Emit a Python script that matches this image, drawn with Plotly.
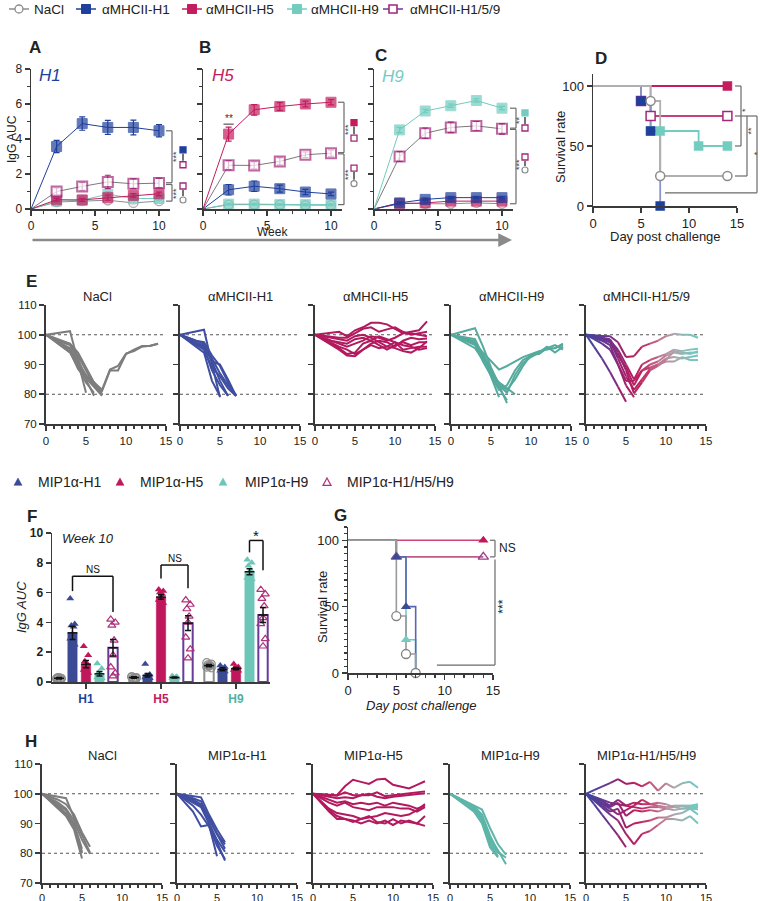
import plotly.graph_objects as go

FONT = "Liberation Sans, Arial, Helvetica, sans-serif"
W, H = 760, 901
AX = "#3a3a3a"
TXT = "#222222"
BR = "#6a6a6a"

GRAY = "#8c8c8c"
BLUE = "#1f3f9c"
RED = "#c41c5e"
TEAL = "#72ccbf"
MIXC = "#a3287a"
LN_BLUE, LN_RED, LN_TEAL, LN_GRAY = "#3f4ea1", "#b3195e", "#55aa9d", "#7d7d7d"
BAR_BLUE, BAR_RED, BAR_TEAL = "#3a4a94", "#c0175c", "#6dc7b9"

# ---------------- data: A-C IgG AUC over weeks ----------------
WEEKS = [0, 2, 4, 6, 8, 10]
A_NACL = [0, 0.40, 0.45, 0.50, 0.35, 0.45]
A_H1 = [0, 3.57, 4.88, 4.66, 4.66, 4.47]
A_H5 = [0, 0.53, 0.52, 0.65, 0.78, 0.87]
A_H9 = [0, 0.45, 0.50, 0.85, 0.60, 0.60]
A_MIX = [0, 1.00, 1.29, 1.55, 1.44, 1.48]
A_ERR_H1 = [0, 0.35, 0.38, 0.40, 0.42, 0.35]
A_ERR_MIX = [0, 0.20, 0.22, 0.38, 0.28, 0.28]
A_ERR_LOW = [0, 0.08, 0.08, 0.15, 0.10, 0.10]

B_NACL = [0, 0.25, 0.25, 0.25, 0.22, 0.22]
B_H1 = [0, 1.10, 1.30, 1.16, 0.97, 0.86]
B_H5 = [0, 4.28, 5.67, 5.86, 6.00, 6.10]
B_H9 = [0, 0.28, 0.28, 0.25, 0.25, 0.25]
B_MIX = [0, 2.50, 2.49, 2.72, 3.10, 3.19]
B_ERR_H5 = [0, 0.40, 0.30, 0.22, 0.16, 0.15]
B_ERR_MIX = [0, 0.25, 0.20, 0.20, 0.16, 0.18]
B_ERR_H1 = [0, 0.30, 0.30, 0.20, 0.15, 0.10]
B_ERR_LOW = [0, 0.05, 0.05, 0.05, 0.05, 0.05]

C_NACL = [0, 0.35, 0.30, 0.30, 0.35, 0.30]
C_H1 = [0, 0.35, 0.55, 0.65, 0.65, 0.65]
C_H5 = [0, 0.30, 0.35, 0.45, 0.45, 0.45]
C_H9 = [0, 4.52, 5.60, 5.90, 6.20, 5.76]
C_MIX = [0, 3.00, 4.33, 4.66, 4.75, 4.58]
C_ERR_H9 = [0, 0.15, 0.10, 0.10, 0.10, 0.10]
C_ERR_MIX = [0, 0.28, 0.30, 0.30, 0.25, 0.30]
C_ERR_LOW = [0, 0.06, 0.06, 0.06, 0.06, 0.06]

# ---------------- data: D survival (aMHCII) ----------------
D_NACL_DAY, D_NACL_SURV = [0, 6, 7, 14], [100, 87.5, 25, 25]
D_H1_DAY, D_H1_SURV = [0, 5, 6, 7], [100, 87.5, 62.5, 0]
D_H5_DAY, D_H5_SURV = [0, 14], [100, 100]
D_H9_DAY, D_H9_SURV = [0, 6, 7, 11, 14], [100, 62.5, 62.5, 50, 50]
D_MIX_DAY, D_MIX_SURV = [0, 5, 6, 14], [100, 87.5, 75, 75]

# ---------------- data: E weight curves (aMHCII), % of day 0 ----------------
E_NACL = [
    [100, 100.4, 100.8, 101.2, 91.0, 80.5],
    [100, 98.7, 97.5, 96.5, 92.0, 85.0, 79.5],
    [100, 98.5, 97.0, 95.5, 91.0, 86.5, 83.0, 81.0, 88.0, 88.0, 93.5, 95.0, 96.2, 96.2, 97.0],
    [100, 98.3, 96.6, 95.0, 90.0, 86.0, 84.0, 81.5, 88.3, 89.5, 93.7, 94.5, 96.0, 96.3, 97.0],
    [100, 98.0, 96.0, 94.0, 89.0, 84.0, 80.5],
    [100, 98.2, 96.3, 94.5, 88.5, 85.5, 82.5, 79.5],
    [100, 98.8, 97.7, 96.8, 93.0, 88.0, 83.0, 80.0],
    [100, 98.9, 98.0, 97.0, 94.0, 89.0, 84.0, 79.8],
]
E_H1 = [
    [100, 100.6, 101.2, 101.7, 90.0, 79.0],
    [100, 99.0, 98.0, 97.0, 91.0, 84.5, 79.4],
    [100, 98.5, 97.0, 95.5, 88.0, 83.0, 79.5],
    [100, 98.7, 97.5, 96.0, 91.0, 90.0, 85.0, 79.4],
    [100, 98.0, 96.0, 94.0, 84.5, 79.3],
    [100, 99.0, 98.0, 97.5, 93.0, 89.5, 84.0, 79.5],
    [100, 98.8, 97.3, 96.5, 92.0, 87.0, 83.0, 79.6],
    [100, 98.4, 96.8, 95.0, 89.0, 86.0, 82.0, 79.4],
]
E_H5 = [
    [100, 100.3, 100.6, 101.0, 99.5, 101.5, 102.5, 104.0, 104.0, 103.5, 102.0, 100.5, 101.0, 101.5, 104.5],
    [100, 99.7, 99.3, 99.0, 99.0, 100.5, 102.0, 102.5, 101.0, 101.8, 102.5, 101.0, 100.0, 100.5, 101.0],
    [100, 99.0, 98.0, 97.0, 96.0, 97.0, 98.0, 99.5, 99.0, 98.0, 99.0, 100.5, 100.5, 100.0, 99.5],
    [100, 98.7, 97.5, 96.0, 95.0, 93.5, 95.0, 97.0, 98.0, 97.5, 96.0, 98.0, 99.0, 98.5, 98.7],
    [100, 98.5, 97.0, 95.5, 93.5, 94.0, 97.0, 98.0, 96.5, 95.0, 96.5, 97.5, 96.5, 97.5, 97.5],
    [100, 98.3, 96.7, 95.0, 93.0, 92.8, 95.0, 96.5, 95.5, 96.0, 97.5, 95.0, 95.5, 96.0, 96.0],
    [100, 99.0, 98.0, 97.5, 97.0, 98.5, 99.0, 98.0, 99.5, 98.5, 97.5, 96.5, 96.0, 95.0, 95.5],
    [100, 99.5, 99.0, 98.5, 98.0, 99.5, 100.0, 99.0, 97.5, 96.0, 95.5, 94.5, 94.0, 95.5, 97.8],
]
E_H9 = [
    [100, 100.7, 101.4, 102.2, 96.0, 89.0, 83.0, 77.0],
    [100, 99.5, 99.0, 98.5, 93.0, 86.0, 79.0],
    [100, 99.0, 98.0, 97.5, 92.0, 87.0, 84.0, 82.0, 80.0],
    [100, 99.3, 98.5, 97.8, 93.0, 88.0, 83.0, 80.5, 86.5, 90.5, 92.5, 94.0, 95.5, 95.5, 97.0],
    [100, 99.0, 98.0, 97.0, 94.0, 91.0, 88.3, 89.5, 91.0, 92.5, 93.5, 94.5, 95.0, 95.5, 96.5],
    [100, 98.8, 97.6, 96.5, 91.0, 86.0, 81.5, 83.0, 88.0, 91.5, 93.0, 94.0, 96.0, 94.0, 96.0],
    [100, 99.2, 98.4, 97.6, 93.5, 88.5, 83.5, 81.5, 85.0, 89.5, 93.3, 93.5, 95.5, 96.5, 95.0],
    [100, 98.5, 97.0, 95.5, 91.5, 87.0, 82.0, 78.0],
]
E_MIX = [
    [100, 99.8, 99.6, 99.5, 97.5, 92.5, 92.8, 96.0, 97.0, 98.0, 99.5, 100.3, 100.0, 100.0, 99.0],
    [100, 96.0, 92.0, 87.5, 82.5, 77.5],
    [100, 99.5, 99.0, 98.5, 94.0, 88.0, 80.3, 84.0, 88.0, 89.5, 91.5, 94.5, 94.0, 93.5, 94.5],
    [100, 99.5, 99.0, 98.0, 92.0, 86.0, 81.5, 85.0, 88.5, 90.0, 92.0, 92.5, 92.0, 92.5, 93.0],
    [100, 99.0, 98.0, 96.5, 90.0, 84.5, 84.5, 88.0, 89.0, 90.0, 91.0, 91.0, 92.5, 91.5, 91.5],
    [100, 99.2, 98.4, 97.5, 93.0, 89.0, 83.0, 88.0, 90.0, 91.0, 93.0, 94.0, 93.5, 94.0, 94.0],
    [100, 98.5, 97.0, 95.0, 90.0, 83.0, 79.0],
    [100, 99.3, 98.7, 98.0, 95.0, 90.0, 85.0, 90.0, 91.5, 92.5, 93.5, 95.0, 94.5, 95.0, 95.3],
]

# ---------------- data: F IgG AUC week 10 (MIP1a) ----------------
F_GROUPS = ["H1", "H5", "H9"]
F_MEAN_NACL = [0.25, 0.30, 1.10]
F_MEAN_H1 = [3.30, 0.45, 0.85]
F_MEAN_H5 = [1.20, 5.70, 0.90]
F_MEAN_H9 = [0.55, 0.30, 7.40]
F_MEAN_MIX = [2.30, 3.95, 4.50]
F_SEM_NACL = [0.05, 0.05, 0.08]
F_SEM_H1 = [0.45, 0.12, 0.10]
F_SEM_H5 = [0.25, 0.15, 0.08]
F_SEM_H9 = [0.15, 0.03, 0.20]
F_SEM_MIX = [0.55, 0.50, 0.50]
F_PTS_NACL = [[0.20, 0.25, 0.30, 0.20, 0.30, 0.25, 0.20],
              [0.35, 0.30, 0.25, 0.30, 0.20, 0.35, 0.25],
              [1.30, 1.20, 1.15, 1.10, 1.05, 1.00, 0.95]]
F_PTS_H1 = [[5.6, 3.9, 3.8, 3.7, 3.2, 2.9, 2.5, 1.6],
            [1.2, 0.5, 0.4, 0.35, 0.3, 0.3, 0.25, 0.3],
            [1.1, 1.0, 0.9, 0.85, 0.8, 0.75, 0.7, 0.7]]
F_PTS_H5 = [[2.4, 1.8, 1.4, 1.2, 1.0, 0.8, 0.6, 0.4],
            [6.2, 6.1, 6.0, 5.9, 5.7, 5.5, 5.3, 5.0],
            [1.2, 1.0, 0.95, 0.9, 0.85, 0.8, 0.75, 0.8]]
F_PTS_H9 = [[1.25, 0.9, 0.6, 0.5, 0.4, 0.3, 0.25, 0.2],
            [0.4, 0.35, 0.3, 0.3, 0.25, 0.25, 0.3, 0.25],
            [8.2, 8.0, 7.8, 7.5, 7.3, 7.0, 6.9, 6.7]]
F_PTS_MIX = [[4.2, 4.0, 3.8, 2.8, 1.8, 1.0, 0.6, 0.4],
             [5.5, 5.2, 4.9, 4.4, 4.0, 3.0, 2.2, 1.6],
             [6.2, 5.9, 5.6, 5.1, 4.3, 3.9, 2.9, 2.4]]

# ---------------- data: G survival (MIP1a) ----------------
G_NACL_DAY, G_NACL_SURV = [0, 5, 6, 7], [100, 42.9, 14.3, 0]
G_H1_DAY, G_H1_SURV = [0, 5, 6, 7], [100, 87.5, 50, 0]
G_H5_DAY, G_H5_SURV = [0, 14], [100, 100]
G_H9_DAY, G_H9_SURV = [0, 5, 6, 7], [100, 87.5, 25, 0]
G_MIX_DAY, G_MIX_SURV = [0, 5, 14], [100, 87.5, 87.5]

# ---------------- data: H weight curves (MIP1a) ----------------
H_NACL = [
    [100, 99.5, 99.0, 98.5, 92.0, 86.0, 80.2],
    [100, 99.0, 98.0, 96.5, 93.0, 87.0, 82.2],
    [100, 98.5, 97.0, 95.0, 91.0, 84.5, 79.8],
    [100, 98.0, 96.0, 93.5, 89.0, 80.5],
    [100, 97.5, 95.0, 92.5, 88.0, 78.2],
    [100, 98.2, 96.5, 94.5, 89.5, 80.0],
    [100, 97.8, 95.5, 93.0, 90.0, 81.5],
]
H_H1 = [
    [100, 99.6, 99.2, 98.8, 93.0, 88.0, 83.7],
    [100, 99.3, 98.5, 97.5, 91.5, 86.5, 81.5],
    [100, 98.5, 97.0, 95.5, 90.0, 84.0, 77.5],
    [100, 97.0, 94.0, 89.0, 89.5, 79.0],
    [100, 98.0, 96.0, 93.0, 89.0, 82.5, 78.0],
    [100, 99.0, 98.0, 96.5, 92.0, 86.5, 83.0],
    [100, 98.8, 97.5, 96.0, 90.5, 84.5, 80.5],
]
H_H5 = [
    [100, 99.8, 99.7, 99.5, 102.5, 104.7, 104.0, 103.3, 104.8, 105.0, 103.0, 102.5, 101.8, 103.0, 104.2],
    [100, 99.8, 99.5, 99.3, 100.5, 99.5, 99.5, 99.5, 100.5, 99.2, 99.5, 99.8, 100.0, 100.3, 100.8],
    [100, 99.5, 99.0, 98.5, 98.8, 98.5, 99.5, 100.0, 99.0, 98.5, 99.0, 99.3, 99.5, 100.0, 100.2],
    [100, 99.0, 98.0, 97.0, 97.5, 96.5, 97.0, 96.5, 97.0, 96.0, 97.0, 96.5, 96.0, 95.0, 96.0],
    [100, 98.5, 97.0, 96.0, 97.0, 95.5, 95.0, 94.5, 95.5, 95.5, 95.5, 95.0, 95.0, 94.0, 95.5],
    [100, 97.5, 95.0, 93.5, 93.0, 92.5, 91.5, 92.0, 92.5, 93.5, 93.0, 92.5, 93.0, 94.5, 96.5],
    [100, 97.0, 94.0, 91.5, 91.5, 91.0, 90.0, 91.0, 90.0, 91.0, 89.5, 91.0, 90.5, 90.0, 89.2],
    [100, 97.2, 94.5, 92.5, 91.5, 90.5, 91.5, 92.5, 90.5, 90.0, 91.5, 90.0, 91.0, 90.0, 92.5],
]
H_H9 = [
    [100, 98.7, 97.4, 96.0, 94.7, 88.5, 83.0, 79.5],
    [100, 98.5, 97.0, 95.5, 92.0, 85.0, 81.0, 76.3],
    [100, 98.2, 96.4, 94.5, 91.0, 83.0, 79.0],
    [100, 98.0, 96.0, 94.0, 90.0, 82.0, 78.6],
    [100, 98.3, 96.6, 95.0, 91.5, 84.0, 80.0],
    [100, 98.6, 97.2, 95.8, 93.0, 86.0, 80.5, 78.5],
]
H_MIX = [
    [100, 101.2, 102.4, 103.6, 104.9, 103.3, 103.7, 102.5, 104.0, 101.0, 103.5, 102.0, 103.5, 104.0, 102.0],
    [100, 96.5, 93.0, 89.5, 86.0, 82.0],
    [100, 97.7, 95.4, 93.0, 91.0, 86.5, 83.0, 86.5, 87.5, 89.5, 91.5, 91.5, 91.0, 92.5, 90.0],
    [100, 98.0, 96.0, 94.0, 95.0, 88.5, 90.0, 90.5, 91.0, 92.0, 92.0, 93.0, 93.5, 95.0, 93.0],
    [100, 98.5, 97.0, 95.5, 97.0, 92.5, 94.5, 94.0, 94.5, 94.0, 95.0, 94.5, 95.0, 95.5, 96.0],
    [100, 98.8, 97.6, 96.0, 98.0, 96.0, 97.0, 96.5, 96.5, 96.0, 95.5, 96.0, 96.0, 96.0, 96.5],
    [100, 99.0, 98.0, 97.0, 96.5, 96.0, 95.5, 95.0, 95.5, 95.5, 95.0, 95.5, 95.0, 95.0, 94.8],
    [100, 98.3, 96.6, 95.0, 93.0, 94.5, 96.0, 98.0, 96.5, 97.0, 96.5, 95.5, 96.0, 95.5, 95.5],
]

# legend labels
TOP_LABELS = ["NaCl", "αMHCII-H1", "αMHCII-H5", "αMHCII-H9", "αMHCII-H1/5/9"]
MIP_LABELS = ["MIP1α-H1", "MIP1α-H5", "MIP1α-H9", "MIP1α-H1/H5/H9"]

# =====================================================================
fig = go.Figure()
shapes, annotations = [], []
layout = dict(width=W, height=H, margin=dict(l=0, r=0, t=0, b=0, autoexpand=False),
              paper_bgcolor="white", plot_bgcolor="rgba(0,0,0,0)",
              font=dict(family=FONT, color=TXT), barmode="overlay", showlegend=False)

base_axis = dict(showgrid=False, zeroline=False, showline=True, linecolor=AX, linewidth=1.5,
                 ticks="outside", tickcolor=AX, tickwidth=1.5, ticklen=5,
                 tickfont=dict(family=FONT, size=12, color=TXT), fixedrange=True)


def minor(dt, ln=3):
    return dict(ticks="outside", ticklen=ln, tickwidth=1.2, tickcolor=AX, dtick=dt, tick0=0, showgrid=False)


def add_axes(n, xpx, ypx, xr, yr, xkw, ykw):
    xs, ys = ("xaxis", "yaxis") if n == 1 else (f"xaxis{n}", f"yaxis{n}")
    xref, yref = ("x", "y") if n == 1 else (f"x{n}", f"y{n}")
    layout[xs] = {**base_axis, **dict(domain=[xpx[0] / W, xpx[1] / W], range=xr, anchor=yref), **xkw}
    layout[ys] = {**base_axis, **dict(domain=[1 - ypx[1] / H, 1 - ypx[0] / H], range=yr, anchor=xref), **ykw}
    return xref, yref


def mk_map(p0, p1, r0, r1):
    return lambda v: p0 + (v - r0) * (p1 - p0) / (r1 - r0)


def seg(x0, y0, x1, y1, color=BR, w=1.2, dash=None):
    ln = dict(color=color, width=w)
    if dash:
        ln["dash"] = dash
    shapes.append(dict(type="line", xref="paper", yref="paper", x0=x0 / W, y0=1 - y0 / H,
                       x1=x1 / W, y1=1 - y1 / H, line=ln))


def box(xc, yc, s, fill, lc, w=1.3):
    shapes.append(dict(type="rect", xref="paper", yref="paper", x0=(xc - s / 2) / W, x1=(xc + s / 2) / W,
                       y0=1 - (yc + s / 2) / H, y1=1 - (yc - s / 2) / H, fillcolor=fill,
                       line=dict(color=lc, width=w)))


def circ(xc, yc, s, lc, w=1.2):
    shapes.append(dict(type="circle", xref="paper", yref="paper", x0=(xc - s / 2) / W, x1=(xc + s / 2) / W,
                       y0=1 - (yc + s / 2) / H, y1=1 - (yc - s / 2) / H, fillcolor="white",
                       line=dict(color=lc, width=w)))


def tri(xc, yc, s, fill, lc, w=1.2):
    pts = [(xc - s / 2, yc + s * 0.42), (xc + s / 2, yc + s * 0.42), (xc, yc - s * 0.5)]
    path = "M " + " L ".join(f"{x / W:.5f},{1 - y / H:.5f}" for x, y in pts) + " Z"
    shapes.append(dict(type="path", xref="paper", yref="paper", path=path, fillcolor=fill,
                       line=dict(color=lc, width=w)))


def text(x, y, t, size=12, color=TXT, angle=0, xa="center", ya="middle", bold=False, italic=False):
    if bold:
        t = f"<b>{t}</b>"
    if italic:
        t = f"<i>{t}</i>"
    annotations.append(dict(xref="paper", yref="paper", x=x / W, y=1 - y / H, text=t, showarrow=False,
                            textangle=angle, xanchor=xa, yanchor=ya,
                            font=dict(family=FONT, size=size, color=color)))


# ---------------- legends (drawn manually for exact placement) ----------------
LEG_Y = 9
TOP_MK = [19, 86, 192, 297, 393]
TOP_TX = [32, 100, 204, 309, 408]
TOP_STY = [("circle", "white", GRAY, GRAY), ("square", BLUE, BLUE, BLUE), ("square", RED, RED, RED),
           ("square", TEAL, TEAL, TEAL), ("square", "white", MIXC, "#6a3a9a")]
for lab, mx, tx, (sym, fill, mc, lc) in zip(TOP_LABELS, TOP_MK, TOP_TX, TOP_STY):
    seg(mx - 10, LEG_Y, mx + 10, LEG_Y, lc, 1.5)
    if sym == "circle":
        circ(mx, LEG_Y, 8, mc, 1.3)
    else:
        box(mx, LEG_Y, 8 if fill == "white" else 9, fill, mc, 1.6 if fill == "white" else 1)
    text(tx, LEG_Y, lab, 13.5, xa="left")

MIP_Y = 482
MIP_MK = [18, 120, 223, 327]
MIP_TX = [36, 138, 243, 345]
MIP_STY = [(BAR_BLUE, BAR_BLUE), (BAR_RED, BAR_RED), (BAR_TEAL, BAR_TEAL), ("white", "#b0307a")]
for lab, mx, tx, (fill, lc) in zip(MIP_LABELS, MIP_MK, MIP_TX, MIP_STY):
    tri(mx, MIP_Y, 8, fill, lc, 1.2 if fill == "white" else 0.5)
    text(tx, MIP_Y, lab, 14, xa="left")

# ---------------- panels A-C ----------------
XR_ABC = [0, 10.86]
ABC_Y = (69, 209)
abc_x = [(31, 170), (203, 342), (374, 513)]
abc_refs = []
for i, xp in enumerate(abc_x):
    abc_refs.append(add_axes(i + 1, xp, ABC_Y, XR_ABC, [0, 8],
                             dict(tickvals=[0, 5, 10], minor=minor(1)),
                             dict(tickvals=[0, 2, 4, 6, 8], minor=minor(1), showticklabels=(i == 0))))

STY = {
    "NaCl": dict(sym="circle", fill="white", mc=GRAY, lc=GRAY, lw=1.3, size=9),
    "H1": dict(sym="square", fill=BLUE, mc=BLUE, lc=BLUE, lw=1, size=10),
    "H5": dict(sym="square", fill=RED, mc=RED, lc=RED, lw=1, size=10),
    "H9": dict(sym="square", fill=TEAL, mc=TEAL, lc=TEAL, lw=1, size=10),
    "MIX": dict(sym="square", fill="white", mc=MIXC, lc="#7a7a7a", lw=2, size=10),
}


def igg_trace(refs, key, y, err):
    s = STY[key]
    sizes = [0 if w == 0 else s["size"] for w in WEEKS]
    return go.Scatter(x=WEEKS, y=y, mode="lines+markers", xaxis=refs[0], yaxis=refs[1], showlegend=False,
                      cliponaxis=False, line=dict(color=s["lc"], width=1),
                      marker=dict(symbol=s["sym"], size=sizes, color=s["fill"],
                                  line=dict(color=s["mc"], width=s["lw"])),
                      error_y=dict(type="data", array=err, color=s["mc"], thickness=1.2, width=3))


ABC_SETS = [
    [("NaCl", A_NACL, A_ERR_LOW), ("H9", A_H9, A_ERR_LOW), ("H5", A_H5, A_ERR_LOW),
     ("MIX", A_MIX, A_ERR_MIX), ("H1", A_H1, A_ERR_H1)],
    [("NaCl", B_NACL, B_ERR_LOW), ("H9", B_H9, B_ERR_LOW), ("H1", B_H1, B_ERR_H1),
     ("MIX", B_MIX, B_ERR_MIX), ("H5", B_H5, B_ERR_H5)],
    [("NaCl", C_NACL, C_ERR_LOW), ("H5", C_H5, C_ERR_LOW), ("H1", C_H1, C_ERR_LOW),
     ("MIX", C_MIX, C_ERR_MIX), ("H9", C_H9, C_ERR_H9)],
]
for refs, sets in zip(abc_refs, ABC_SETS):
    for key, y, e in sets:
        fig.add_trace(igg_trace(refs, key, y, e))

ay = mk_map(209, 69, 0, 8)
ax_maps = [mk_map(x0, x1, 0, XR_ABC[1]) for x0, x1 in abc_x]

# brackets A
for (xb, top, bot) in [(172, 4.47, 1.50), (172, 1.40, 0.45)]:
    seg(xb - 6, ay(top), xb, ay(top)); seg(xb, ay(top), xb, ay(bot)); seg(xb - 6, ay(bot), xb, ay(bot))
box(183, ay(3.38), 6, BLUE, BLUE); seg(183, ay(3.38) + 4, 183, ay(2.53) - 4, "#444", 1.5); box(183, ay(2.53), 6, "white", MIXC)
box(183, 186, 6, "white", MIXC); seg(183, 190, 183, 196, "#444", 1.5); circ(183, 200, 6, GRAY)
text(176, 157, "***", 9, "#444", -90); text(176, 194, "***", 9, "#444", -90)
# brackets B
for (xb, top, bot) in [(344, 6.10, 3.22), (344, 3.15, 0.25)]:
    seg(xb - 6, ay(top), xb, ay(top)); seg(xb, ay(top), xb, ay(bot)); seg(xb - 6, ay(bot), xb, ay(bot))
box(354, ay(4.94), 6, RED, RED); seg(354, ay(4.94) + 4, 354, ay(4.05) - 4, "#444", 1.5); box(354, ay(4.05), 6, "white", MIXC)
box(354, ay(2.34), 6, "white", MIXC); seg(354, ay(2.34) + 4, 354, ay(1.45) - 4, "#444", 1.5); circ(354, ay(1.45), 6, GRAY)
text(348, 130, "***", 9, "#444", -90); text(348, 175, "***", 9, "#444", -90)
text(ax_maps[1](2), ay(5.15), "**", 10, "#333")
seg(ax_maps[1](1.6), ay(4.85), ax_maps[1](2.4), ay(4.85), "#333", 1)
# brackets C
for (xb, top, bot) in [(516, 5.76, 4.62), (516, 4.55, 0.30)]:
    seg(xb - 6, ay(top), xb, ay(top)); seg(xb, ay(top), xb, ay(bot)); seg(xb - 6, ay(bot), xb, ay(bot))
box(525, ay(5.49), 6, TEAL, TEAL); seg(525, ay(5.49) + 4, 525, ay(4.63) - 4, "#444", 1.5); box(525, ay(4.63), 6, "white", MIXC)
box(525, 157, 6, "white", MIXC); seg(525, 161, 525, 166, "#444", 1.5); circ(525, 170, 6, GRAY)
text(519, 120, "**", 9, "#444", -90); text(519, 165, "***", 9, "#444", -90)

text(35, 48, "A", 17, bold=True); text(205, 48, "B", 17, bold=True); text(381, 55, "C", 17, bold=True)
text(50, 76, "H1", 17, BLUE, italic=True); text(223, 76, "H5", 17, RED, italic=True)
text(393, 77, "H9", 17, TEAL, italic=True)
text(12, 139, "IgG AUC", 12, angle=-90)
text(272, 232, "Week", 12)
annotations.append(dict(xref="paper", yref="paper", x=512 / W, y=1 - 240 / H, ax=-481, ay=0,
                        axref="pixel", ayref="pixel", text="", showarrow=True, arrowhead=2,
                        arrowsize=1.1, arrowwidth=2.5, arrowcolor="#8a8a8a"))

# ---------------- panel D ----------------
dref = add_axes(4, (593, 737), (74, 206), [0, 15], [0, 110],
                dict(tickvals=[0, 5, 10, 15], tickfont=dict(family=FONT, size=13, color=TXT)),
                dict(tickvals=[0, 50, 100], tickfont=dict(family=FONT, size=13, color=TXT)))
D_SETS = [
    (D_H5_DAY, D_H5_SURV, RED, "square", RED, RED),
    (D_MIX_DAY, D_MIX_SURV, "#c8407a", "square", "white", MIXC),
    (D_H9_DAY, D_H9_SURV, TEAL, "square", TEAL, TEAL),
    (D_H1_DAY, D_H1_SURV, "#8896cc", "square", BLUE, BLUE),
    (D_NACL_DAY, D_NACL_SURV, "#b0b0b0", "circle", "white", GRAY),
]
for days, surv, lc, sym, fill, mc in D_SETS:
    fig.add_trace(go.Scatter(x=days, y=surv, mode="lines", line=dict(shape="hv", color=lc, width=1.8),
                             xaxis=dref[0], yaxis=dref[1], showlegend=False, cliponaxis=False))
for days, surv, lc, sym, fill, mc in D_SETS:
    fig.add_trace(go.Scatter(x=days[1:], y=surv[1:], mode="markers", xaxis=dref[0], yaxis=dref[1],
                             showlegend=False, cliponaxis=False,
                             marker=dict(symbol=sym, size=9, color=fill,
                                         line=dict(color=mc, width=1.5 if fill == "white" else 0.5))))
dx = mk_map(593, 737, 0, 15)
dy = mk_map(206, 74, 0, 110)
seg(735, dy(100), 741, dy(100)); seg(741, dy(100), 741, dy(50)); seg(735, dy(50), 741, dy(50))
seg(735, dy(75), 757, dy(75)); seg(747, dy(75), 747, dy(25)); seg(735, dy(25), 747, dy(25))
seg(757, dy(75), 757, dy(11)); seg(dx(7.5), dy(11), 757, dy(11))
text(745, dy(80), "*", 9, "#444", -90); text(751, dy(63), "**", 9, "#444", -90)
text(757, dy(44), "*", 9, "#444", -90)
text(601, 59, "D", 17, bold=True)
text(560, 147, "Survival rate", 13, angle=-90)
text(665, 236, "Day post challenge", 13)

# ---------------- panels E & H (weights) ----------------
STOPS = [(0, (60, 70, 160)), (3, (110, 50, 140)), (5, (170, 30, 100)), (7, (192, 35, 95)),
         (9, (195, 110, 140)), (11, (175, 165, 170)), (14, (105, 205, 195))]


def grad(t):
    for (t0, c0), (t1, c1) in zip(STOPS[:-1], STOPS[1:]):
        if t <= t1:
            f = (t - t0) / (t1 - t0)
            return "rgb(%d,%d,%d)" % tuple(round(a + (b - a) * f) for a, b in zip(c0, c1))
    return "rgb(%d,%d,%d)" % STOPS[-1][1]


def weight_panel(n, x0, ytop, curves, color, title, first, title_x, tfs=11.5, tlen=5):
    refs = add_axes(n, (x0, x0 + 120), (ytop, ytop + 119), [0, 15], [70, 110],
                    dict(tickvals=[0, 5, 10, 15], minor=minor(1), linewidth=2, tickwidth=1.6, ticklen=tlen,
                         tickfont=dict(family=FONT, size=tfs, color=TXT)),
                    dict(tickvals=[70, 80, 90, 100, 110], showticklabels=first, linewidth=2, tickwidth=1.6,
                         tickfont=dict(family=FONT, size=11.5, color=TXT)))
    for yv in (100, 80):
        shapes.append(dict(type="line", xref=refs[0], yref=refs[1], x0=0, x1=15, y0=yv, y1=yv,
                           layer="below", line=dict(color="#555", width=1.2, dash="dot")))
    if color is None:
        for k in range(14):
            xs, ys = [], []
            for c in curves:
                if len(c) > k + 1:
                    xs += [k, k + 1, None]
                    ys += [c[k], c[k + 1], None]
            if xs:
                fig.add_trace(go.Scatter(x=xs, y=ys, mode="lines", xaxis=refs[0], yaxis=refs[1],
                                         showlegend=False, line=dict(color=grad(k + 0.5), width=2)))
    else:
        for c in curves:
            fig.add_trace(go.Scatter(x=list(range(len(c))), y=c, mode="lines", xaxis=refs[0], yaxis=refs[1],
                                     showlegend=False, line=dict(color=color, width=2)))
    text(title_x, ytop - 9, title, 13)


E_X0 = [46, 180, 315, 451, 586]
E_SETS = [(E_NACL, LN_GRAY, "NaCl"), (E_H1, LN_BLUE, "αMHCII-H1"), (E_H5, LN_RED, "αMHCII-H5"),
          (E_H9, LN_TEAL, "αMHCII-H9"), (E_MIX, None, "αMHCII-H1/5/9")]
E_TX = [97, 240, 375, 511, 646]
for i, ((curves, col, title), x0) in enumerate(zip(E_SETS, E_X0)):
    weight_panel(5 + i, x0, 305, curves, col, title, i == 0, E_TX[i])
text(31, 281, "E", 17, bold=True)

H_X0 = [42, 177, 313, 450, 586]
H_SETS = [(H_NACL, LN_GRAY, "NaCl"), (H_H1, LN_BLUE, "MIP1α-H1"), (H_H5, LN_RED, "MIP1α-H5"),
          (H_H9, "#5db5a8", "MIP1α-H9"), (H_MIX, None, "MIP1α-H1/H5/H9")]
for i, ((curves, col, title), x0) in enumerate(zip(H_SETS, H_X0)):
    weight_panel(12 + i, x0, 764, curves, col, title, i == 0, x0 + 60, tfs=11, tlen=4)
text(31, 741, "H", 17, bold=True)

# ---------------- panel F ----------------
F_COLS = {"H1": BLUE, "H5": RED, "H9": "#4fb3a5"}
fref = add_axes(10, (52, 270), (533, 682), [-0.453, 2.453], [0, 10],
                dict(tickvals=[0, 1, 2],
                     ticktext=[f"<span style='color:{F_COLS[g]}'><b>{g}</b></span>" for g in F_GROUPS],
                     tickfont=dict(family=FONT, size=12, color=TXT)),
                dict(tickvals=[0, 2, 4, 6, 8, 10], tickfont=dict(family=FONT, size=12, color=TXT, weight="bold")))
OFF = [-0.36, -0.18, 0.0, 0.18, 0.36]
BW = 0.125
F_SERIES = [
    ("NaCl", F_MEAN_NACL, F_SEM_NACL, F_PTS_NACL, "white", GRAY, 2, "circle-open", GRAY),
    ("H1", F_MEAN_H1, F_SEM_H1, F_PTS_H1, BAR_BLUE, BAR_BLUE, 0.5, "triangle-up", BAR_BLUE),
    ("H5", F_MEAN_H5, F_SEM_H5, F_PTS_H5, BAR_RED, BAR_RED, 0.5, "triangle-up", BAR_RED),
    ("H9", F_MEAN_H9, F_SEM_H9, F_PTS_H9, BAR_TEAL, BAR_TEAL, 0.5, "triangle-up", BAR_TEAL),
    ("MIX", F_MEAN_MIX, F_SEM_MIX, F_PTS_MIX, "white", "#6a3a9a", 2, "triangle-up-open", "#b0307a"),
]
JIT = [-0.03, 0.03, -0.015, 0.015, 0.0, -0.03, 0.03, 0.0]
for j, (key, mean, sem, pts, fill, lc, lw, sym, pc) in enumerate(F_SERIES):
    xs = [g + OFF[j] for g in range(3)]
    fig.add_trace(go.Bar(x=xs, y=mean, width=BW, xaxis=fref[0], yaxis=fref[1], showlegend=False,
                         marker=dict(color=fill, line=dict(color=lc, width=lw))))
for j, (key, mean, sem, pts, fill, lc, lw, sym, pc) in enumerate(F_SERIES):
    px_, py_ = [], []
    for g in range(3):
        for k, v in enumerate(pts[g]):
            px_.append(g + OFF[j] + JIT[k % len(JIT)])
            py_.append(v)
    fig.add_trace(go.Scatter(x=px_, y=py_, mode="markers", xaxis=fref[0], yaxis=fref[1], cliponaxis=False,
                             showlegend=False,
                             marker=dict(symbol=sym, size=7 if key != "NaCl" else 8, color=pc,
                                         line=dict(width=1.2 if "open" in sym else 0, color=pc))))
for j, (key, mean, sem, pts, fill, lc, lw, sym, pc) in enumerate(F_SERIES):
    xs = [g + OFF[j] for g in range(3)]
    fig.add_trace(go.Scatter(x=xs, y=mean, mode="markers", xaxis=fref[0], yaxis=fref[1], showlegend=False,
                             marker=dict(size=7, symbol="line-ew", line=dict(color="#111", width=1.5)),
                             error_y=dict(type="data", array=sem, color="#111", thickness=1.5, width=3)))
fx = mk_map(86, 161, 0, 1)
fy = mk_map(682, 533, 0, 10)
for g, a, b, top, lb, rb, lab, sz in [(0, 1, 4, 7.1, 6.1, 4.7, "NS", 10), (1, 2, 4, 7.85, 6.95, 6.3, "NS", 10),
                                      (2, 3, 4, 9.5, 8.7, 7.5, "*", 15)]:
    xl, xr = fx(g + OFF[a]), fx(g + OFF[b])
    seg(xl, fy(lb), xl, fy(top), "#111", 1.5); seg(xl, fy(top), xr, fy(top), "#111", 1.5)
    seg(xr, fy(top), xr, fy(rb), "#111", 1.5)
    text((xl + xr) / 2, fy(top) - (7 if lab == "NS" else 5), lab, sz, "#111")
text(32, 516, "F", 17, bold=True)
text(88, 538, "Week 10", 13, italic=True)
text(21, 607, "IgG AUC", 13, italic=True, angle=-90)

# ---------------- panel G ----------------
gref = add_axes(11, (348, 493), (527, 673), [0, 15], [0, 110],
                dict(tickvals=[0, 5, 10, 15], minor=minor(1), tickfont=dict(family=FONT, size=13, color=TXT)),
                dict(tickvals=[0, 50, 100], minor=minor(5), tickfont=dict(family=FONT, size=13, color=TXT)))
G_SETS = [
    (G_H5_DAY, G_H5_SURV, "#d0407a", "triangle-up", BAR_RED, BAR_RED),
    (G_MIX_DAY, G_MIX_SURV, "#c05a86", "triangle-up-open", "#9a3a8a", "#9a3a8a"),
    (G_H9_DAY, G_H9_SURV, TEAL, "triangle-up", TEAL, TEAL),
    (G_H1_DAY, G_H1_SURV, "#5a66b0", "triangle-up", BAR_BLUE, BAR_BLUE),
    (G_NACL_DAY, G_NACL_SURV, "#9a9a9a", "circle", "white", "#808080"),
]
for days, surv, lc, sym, fill, mc in G_SETS:
    fig.add_trace(go.Scatter(x=days, y=surv, mode="lines", line=dict(shape="hv", color=lc, width=1.6),
                             xaxis=gref[0], yaxis=gref[1], showlegend=False, cliponaxis=False))
for days, surv, lc, sym, fill, mc in G_SETS:
    fig.add_trace(go.Scatter(x=days[1:], y=surv[1:], mode="markers", xaxis=gref[0], yaxis=gref[1],
                             showlegend=False, cliponaxis=False,
                             marker=dict(symbol=sym, size=9, color=fill,
                                         line=dict(color=mc, width=1.3 if ("open" in sym or fill == "white") else 0))))
gx = mk_map(348, 493, 0, 15)
gy = mk_map(673, 527, 0, 110)
seg(490, gy(100), 495, gy(100)); seg(495, gy(100), 495, gy(87.5)); seg(490, gy(87.5), 495, gy(87.5))
seg(495, gy(85.5), 495, gy(6)); seg(gx(9.2), gy(6), 495, gy(6))
text(497, gy(94), "NS", 12, xa="left")
text(503, gy(50), "***", 12, angle=-90)
text(340, 515, "G", 17, bold=True)
text(322, 607, "Survival rate", 13, angle=-90)
text(421, 705, "Day post challenge", 13, italic=True)

layout["shapes"] = shapes
layout["annotations"] = annotations
fig.update_layout(**layout)
# remove the browser's default 8px page margin so the figure sits at the window's top-left corner
fig.write_html("out.html", config={"displayModeBar": False, "staticPlot": True},
               post_script="document.body.style.margin='0px';document.body.style.padding='0px';")
